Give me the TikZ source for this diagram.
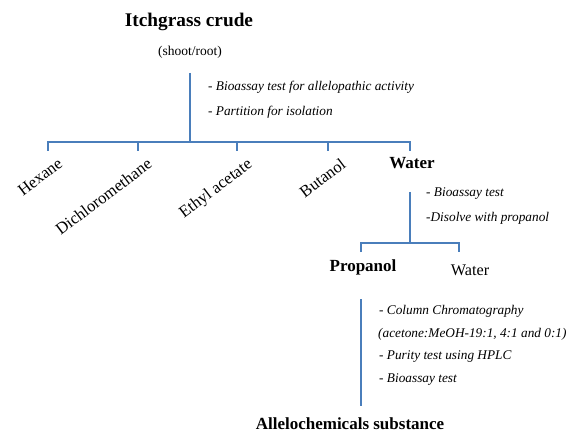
\documentclass[tikz,border=0pt]{standalone}
\usepackage{fontspec}
\setmainfont{Liberation Serif}
\definecolor{lineblue}{HTML}{4A7EBB}
\tikzset{
  conn/.style={draw=lineblue, line width=1.6pt},
  title/.style={font=\bfseries\fontsize{19.3}{22}\selectfont, inner sep=0pt},
  boldlbl/.style={font=\bfseries\fontsize{17}{20}\selectfont, inner sep=0pt},
  reglbl/.style={font=\fontsize{16.2}{19}\selectfont, inner sep=0pt},
  rotlbl/.style={font=\fontsize{16.6}{19}\selectfont, inner sep=0pt, rotate=37, anchor=north east},
  note/.style={font=\itshape\fontsize{13.3}{16}\selectfont, inner sep=0pt, anchor=west},
  sub/.style={font=\fontsize{13.5}{16}\selectfont, inner sep=0pt}
}
\begin{document}
\begin{tikzpicture}[x=1pt,y=-1pt]
\useasboundingbox (0,0) rectangle (568,433);
% top
\node[title] (crude) at (189,22) {Itchgrass crude};
\node[sub] (shoot) at (190,52) {(shoot/root)};
\coordinate (a1) at (190,73);
\coordinate (j1) at (190,142);
\node[note] (n1) at (208,87) {- Bioassay test for allelopathic activity};
\node[note] (n2) at (208,112) {- Partition for isolation};
% bar 1
\foreach \i/\x in {1/48,2/138,3/237,4/328,5/410}{
  \coordinate (b\i) at (\x,142);
  \coordinate (e\i) at (\x,151);
}
\draw[conn] (a1) -- (j1);
\draw[conn] (e1) -- (b1) -- (b5) -- (e5);
\draw[conn] (b2) -- (e2);
\draw[conn] (b3) -- (e3);
\draw[conn] (b4) -- (e4);
% solvent labels
\node[rotlbl] (hex) at (57,157) {Hexane};
\node[rotlbl] (dcm) at (146,157) {Dichloromethane};
\node[rotlbl] (eta) at (246,157) {Ethyl acetate};
\node[rotlbl] (but) at (340,157) {Butanol};
\node[boldlbl] (water) at (412,163) {Water};
% water branch
\coordinate (w1) at (410,192);
\coordinate (j2) at (410,243);
\node[note] (n3) at (426,194) {- Bioassay test};
\node[note] (n4) at (426,218) {-Disolve with propanol};
\coordinate (c1) at (361,243);
\coordinate (c2) at (459,243);
\coordinate (d1) at (361,252);
\coordinate (d2) at (459,252);
\draw[conn] (w1) -- (j2);
\draw[conn] (d1) -- (c1) -- (c2) -- (d2);
\node[boldlbl] (prop) at (363,267) {Propanol};
\node[reglbl] (water2) at (470,270) {Water};
% propanol branch
\coordinate (p1) at (361,299);
\coordinate (p2) at (361,406);
\draw[conn] (p1) -- (p2);
\node[note] (n5) at (379,311) {- Column Chromatography};
\node[note] (n6) at (378,334) {(acetone:MeOH-19:1, 4:1 and 0:1)};
\node[note] (n7) at (379,357) {- Purity test using HPLC};
\node[note] (n8) at (379,380) {- Bioassay test};
\node[boldlbl, anchor=base] (allelo) at (350,429) {Allelochemicals substance};
\end{tikzpicture}
\end{document}
